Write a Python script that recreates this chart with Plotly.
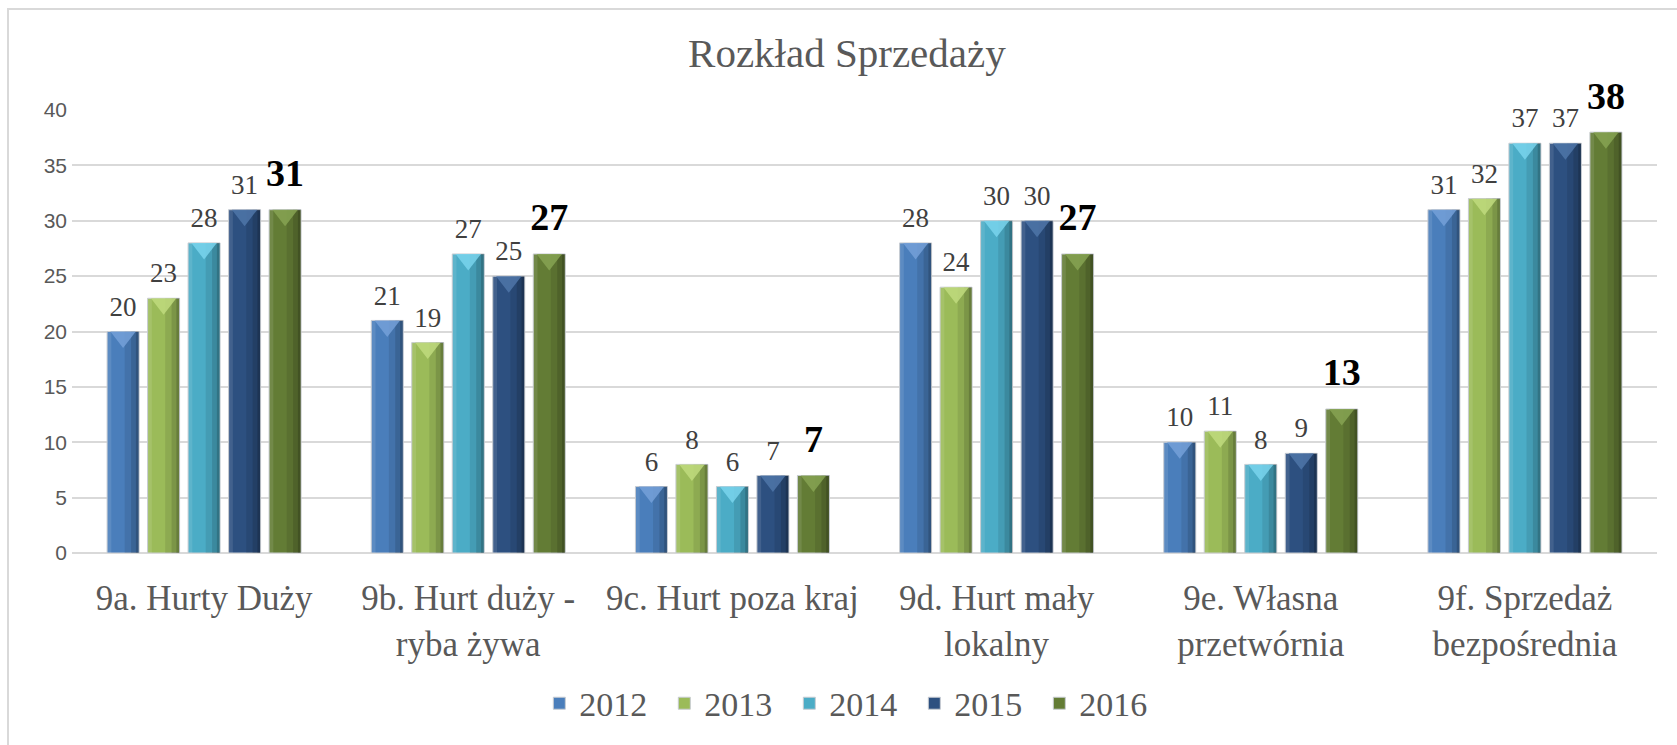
import plotly.graph_objects as go

categories = [
    "9a. Hurty Duży",
    "9b. Hurt duży -<br>ryba żywa",
    "9c. Hurt poza kraj",
    "9d. Hurt mały<br>lokalny",
    "9e. Własna<br>przetwórnia",
    "9f. Sprzedaż<br>bezpośrednia",
]
years = ["2012", "2013", "2014", "2015", "2016"]
v2012 = [20, 21, 6, 28, 10, 31]
v2013 = [23, 19, 8, 24, 11, 32]
v2014 = [28, 27, 6, 30, 8, 37]
v2015 = [31, 25, 7, 30, 9, 37]
v2016 = [31, 27, 7, 27, 13, 38]
series = [v2012, v2013, v2014, v2015, v2016]
colors = ["#4A7EBB", "#9BBB59", "#4BACC6", "#2D5080", "#637C35"]
light = ["#74A0D8", "#BFDA7E", "#79D3EC", "#4F76A8", "#86A352"]

SERIF = "Liberation Serif, serif"
SANS = "Liberation Sans, Arial, sans-serif"
GAP = 0.2335          # category gap
SLOT = (1 - GAP) / 5  # slot per series (category units)
W = 0.1211            # bar width (category units)

fig = go.Figure()
n = len(years)
for i, (yr, vals, col) in enumerate(zip(years, series, colors)):
    c = (i - (n - 1) / 2) * SLOT
    fig.add_trace(go.Bar(
        x=categories, y=vals, name=yr, offsetgroup=yr,
        offset=c - W / 2, width=W,
        marker=dict(color=col, line=dict(color="#C8CCD2", width=1)),
        hoverinfo="x+y+name",
    ))
    # bevel shading: darker towards the right edge, lighter left edge
    for frac, alpha in [(0.05, 0.09), (0.25, 0.12), (0.40, 0.16)]:
        fig.add_trace(go.Bar(
            x=categories, y=vals, offsetgroup=yr,
            offset=c + frac * W, width=(0.5 - frac) * W - 0.0015,
            marker=dict(color=f"rgba(0,0,0,{alpha})", line=dict(width=0)),
            showlegend=False, hoverinfo="skip",
        ))
    fig.add_trace(go.Bar(
        x=categories, y=vals, offsetgroup=yr,
        offset=c - 0.5 * W + 0.0015, width=0.12 * W,
        marker=dict(color="rgba(255,255,255,0.10)", line=dict(width=0)),
        showlegend=False, hoverinfo="skip",
    ))

for i, (yr, vals) in enumerate(zip(years, series)):
    fig.add_trace(go.Scatter(
        x=categories, y=[v - 0.5 for v in vals], offsetgroup=yr,
        mode="markers",
        marker=dict(symbol="triangle-down", size=22, color=light[i],
                    opacity=0.85, line=dict(width=0)),
        showlegend=False, hoverinfo="skip", cliponaxis=False,
    ))

for i, (yr, vals) in enumerate(zip(years, series)):
    last = i == n - 1
    fig.add_trace(go.Scatter(
        x=categories, y=vals, offsetgroup=yr, mode="markers+text",
        text=[str(v) for v in vals], textposition="top center",
        texttemplate=("<b>%{text}</b>" if last else "%{text}"),
        textfont=dict(family=SERIF, size=38 if last else 27,
                      color="#000000" if last else "#404040"),
        marker=dict(size=21 if last else 13, opacity=0),
        showlegend=False, hoverinfo="skip", cliponaxis=False,
    ))

fig.update_layout(
    width=1677, height=745,
    margin=dict(l=72, r=20, t=110, b=192),
    paper_bgcolor="white", plot_bgcolor="white",
    barmode="overlay",
    scattermode="group", scattergap=GAP,
    title=dict(text="Rozkład Sprzedaży", x=0.505, xanchor="center",
               y=1 - 53 / 745, yanchor="middle", yref="container",
               font=dict(family=SERIF, size=41, color="#595959")),
    legend=dict(orientation="h", x=0.492, xanchor="center",
                y=-0.34, yanchor="middle", entrywidth=80,
                font=dict(family=SERIF, size=34, color="#595959"),
                itemclick=False, itemdoubleclick=False),
    showlegend=True,
    xaxis=dict(showgrid=False, ticks="", showline=False,
               tickfont=dict(family=SERIF, size=35, color="#595959"),
               ticklabelstandoff=21),
    yaxis=dict(range=[0, 40], dtick=5, showgrid=True, gridcolor="#D9D9D9",
               gridwidth=1.5, zeroline=True, zerolinecolor="#D9D9D9",
               zerolinewidth=1.5, showline=False, ticks="",
               ticklabelstandoff=4,
               tickfont=dict(family=SANS, size=21, color="#595959")),
    shapes=[dict(type="rect", xref="paper", yref="paper",
                 x0=(8 - 72) / 1585, x1=(1700 - 72) / 1585,
                 y0=(553 - 770) / 443, y1=(553 - 9) / 443,
                 line=dict(color="#D9D9D9", width=2), fillcolor="rgba(0,0,0,0)",
                 layer="below")],
)

fig.write_html("out.html", config={"displayModeBar": False},
               post_script="document.body.style.margin='0';document.body.style.overflow='hidden';")
